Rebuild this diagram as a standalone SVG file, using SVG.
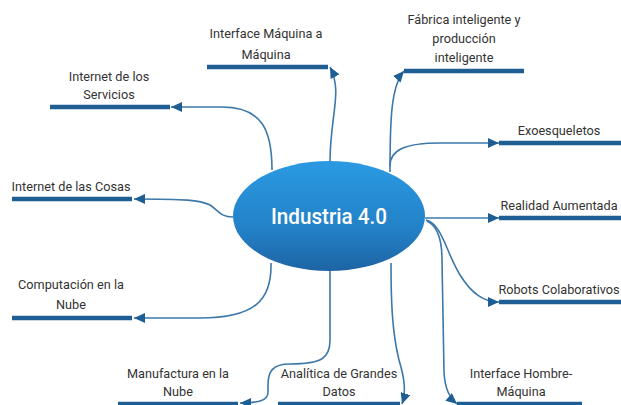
<svg xmlns="http://www.w3.org/2000/svg" width="621" height="405" viewBox="0 0 621 405">
<style>
.lbl{font-family:Roboto,"Liberation Sans",sans-serif;font-size:12.7px;fill:#333;text-anchor:middle}
.bar{stroke:#1e5e92;stroke-width:4.5;fill:none}
.con{stroke:#3c78aa;stroke-width:1.6;fill:none;marker-end:url(#ah)}
.title{font-family:Roboto,"Liberation Sans",sans-serif;font-size:22px;font-weight:500;fill:#fff;text-anchor:middle}
</style>
<defs>
<linearGradient id="g" x1="0" y1="0" x2="0" y2="1">
<stop offset="0" stop-color="#2a9ae2"/>
<stop offset="0.6" stop-color="#2382c8"/>
<stop offset="1" stop-color="#1d64a4"/>
</linearGradient>
<marker id="ah" markerUnits="userSpaceOnUse" markerWidth="12" markerHeight="10" refX="11" refY="5" orient="auto" viewBox="0 0 12 10">
<path d="M0,0 L11,5 L0,10 z" fill="#1e5e92"/>
</marker>
</defs>
<rect width="621" height="405" fill="#fff"/>
<g id="connectors">
<path class="con" d="M330,162 C330,115 343,92 330,67"/>
<path class="con" d="M390,172 C390,120 391,86 404,71"/>
<path class="con" d="M390,166 C390,150 405,143 440,143 L499,143"/>
<path class="con" d="M425,218 L499,218"/>
<path class="con" d="M426,220 C442,224 446,252 460,275 C472,294 484,302 499,302"/>
<path class="con" d="M427,221 C438,226 442,240 442,260 L444,372 C445,390 450,398 457,404"/>
<path class="con" d="M391,263 C391,300 392,332 399,360 C405,380 406,392 402,404"/>
<path class="con" d="M330,270 L330,340 C330,358 322,364 290,364 C272,364 268,372 268,385 L268,392 C268,400 260,403 240,403"/>
<path class="con" d="M271,263 C272,300 255,318 200,318 L134,318"/>
<path class="con" d="M233,217 C220,217 218,210 210,205 C200,200 185,199 134,199"/>
<path class="con" d="M272,170 C272,130 262,107 222,107 L171,107"/>
</g>
<g id="center">
<ellipse cx="329" cy="216" rx="96" ry="55" fill="url(#g)"/>
<text class="title" x="329" y="224" textLength="116" lengthAdjust="spacingAndGlyphs">Industria 4.0</text>
</g>
<g id="n-m2m">
<line class="bar" x1="207" y1="67" x2="328" y2="67"/>
<text class="lbl" x="266" y="38">Interface Máquina a</text>
<text class="lbl" x="266" y="59">Máquina</text>
</g>
<g id="n-fabrica">
<line class="bar" x1="404" y1="71" x2="524" y2="71"/>
<text class="lbl" x="464" y="24">Fábrica inteligente y</text>
<text class="lbl" x="464" y="43">producción</text>
<text class="lbl" x="464" y="62">inteligente</text>
</g>
<g id="n-exo">
<line class="bar" x1="499" y1="143" x2="621" y2="143"/>
<text class="lbl" x="559" y="135">Exoesqueletos</text>
</g>
<g id="n-ra">
<line class="bar" x1="499" y1="218" x2="621" y2="218"/>
<text class="lbl" x="559" y="210">Realidad Aumentada</text>
</g>
<g id="n-robots">
<line class="bar" x1="499" y1="302" x2="621" y2="302"/>
<text class="lbl" x="559" y="294">Robots Colaborativos</text>
</g>
<g id="n-hm">
<line class="bar" x1="457" y1="404" x2="582" y2="404"/>
<text class="lbl" x="521" y="378">Interface Hombre-</text>
<text class="lbl" x="521" y="396">Máquina</text>
</g>
<g id="n-analitica">
<line class="bar" x1="278" y1="404" x2="400" y2="404"/>
<text class="lbl" x="339" y="378">Analítica de Grandes</text>
<text class="lbl" x="339" y="396">Datos</text>
</g>
<g id="n-manufactura">
<line class="bar" x1="118" y1="404" x2="238" y2="404"/>
<text class="lbl" x="178" y="378">Manufactura en la</text>
<text class="lbl" x="178" y="396">Nube</text>
</g>
<g id="n-computacion">
<line class="bar" x1="12" y1="318" x2="132" y2="318"/>
<text class="lbl" x="71" y="289">Computación en la</text>
<text class="lbl" x="71" y="309">Nube</text>
</g>
<g id="n-iot">
<line class="bar" x1="12" y1="199" x2="132" y2="199"/>
<text class="lbl" x="71" y="191">Internet de las Cosas</text>
</g>
<g id="n-ios">
<line class="bar" x1="50" y1="107" x2="170" y2="107"/>
<text class="lbl" x="109" y="81">Internet de los</text>
<text class="lbl" x="109" y="99">Servicios</text>
</g>
</svg>
